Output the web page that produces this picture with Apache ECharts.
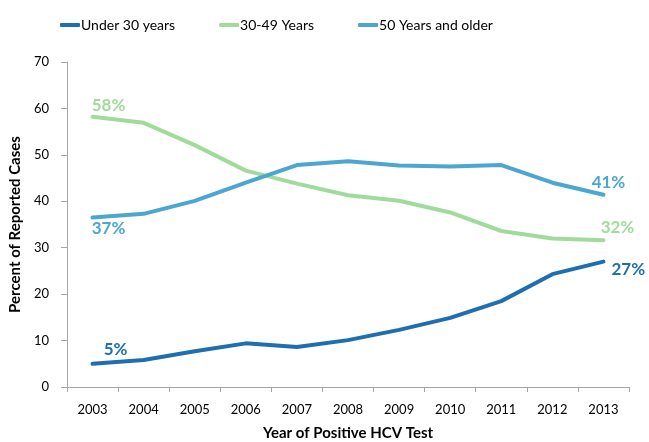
<!DOCTYPE html>
<html>
<head>
<meta charset="utf-8">
<script src="https://cdn.jsdelivr.net/npm/echarts@6/dist/echarts.min.js"></script>
<style>
  html, body { margin: 0; padding: 0; background: #fff; }
  #main { width: 649px; height: 442px; }
</style>
</head>
<body>
<div id="main"></div>
<script>
// data
const years = ["2003", "2004", "2005", "2006", "2007", "2008", "2009", "2010", "2011", "2012", "2013"];
const under30 = [5.0, 5.8, 7.7, 9.4, 8.6, 10.1, 12.3, 14.9, 18.5, 24.3, 27.0];
const age30to49 = [58.2, 56.9, 52.1, 46.6, 43.8, 41.3, 40.1, 37.6, 33.6, 32.0, 31.6];
const age50plus = [36.5, 37.3, 40.1, 44.0, 47.8, 48.6, 47.7, 47.5, 47.8, 44.0, 41.4];
const seriesNames = ["Under 30 years", "30-49 Years", "50 Years and older"];
const colors = ["#1F6EB0", "#A1DB9C", "#4BA7D0"];

const font = "Lato, 'Open Sans', sans-serif";

// label only first and last point of each line
function withLabels(values, color, first, last) {
  return values.map((v, i) => {
    let pos = null;
    if (i === 0) pos = first;
    if (i === values.length - 1) pos = last;
    if (!pos) return v;
    return {
      value: v,
      label: {
        show: true,
        position: pos.position,
        distance: pos.distance != null ? pos.distance : 3,
        offset: pos.offset || [0, 0],
        formatter: Math.round(v) + "%",
        color: color,
        fontSize: 17,
        fontWeight: "bold",
        fontFamily: font
      }
    };
  });
}

function lineSeries(k, values, first, last) {
  return {
    name: seriesNames[k],
    type: "line",
    symbol: "circle",
    symbolSize: 0.1,
    showSymbol: true,
    lineStyle: { width: 4, color: colors[k], cap: "round" },
    itemStyle: { color: colors[k] },
    data: withLabels(values, colors[k], first, last)
  };
}

const chart = echarts.init(document.getElementById("main"));
chart.setOption({
  animation: false,
  textStyle: { fontFamily: font },
  legend: {
    top: 13,
    left: 55,
    itemGap: 44,
    itemWidth: 20,
    itemHeight: 4,
    icon: "roundRect",
    textStyle: { fontSize: 14, color: "#000", fontFamily: font, padding: [0, 0, 0, -4] },
    data: seriesNames
  },
  grid: { left: 67, right: 20, top: 62, bottom: 55, containLabel: false, outerBoundsMode: "none" },
  xAxis: {
    type: "category",
    data: years,
    boundaryGap: true,
    axisLine: { lineStyle: { color: "#A6A6A6" } },
    axisTick: { show: true, length: 5, lineStyle: { color: "#A6A6A6" } },
    axisLabel: { color: "#000", fontSize: 13, margin: 16, fontFamily: font },
    name: "Year of Positive HCV Test",
    nameLocation: "middle",
    nameGap: 39,
    nameTextStyle: { fontSize: 15, fontWeight: "bold", color: "#000", fontFamily: font }
  },
  yAxis: {
    type: "value",
    min: 0,
    max: 70,
    interval: 10,
    splitLine: { show: false },
    axisLine: { show: true, lineStyle: { color: "#A6A6A6" } },
    axisTick: { show: true, length: 6, lineStyle: { color: "#A6A6A6" } },
    axisLabel: { color: "#000", fontSize: 13, margin: 18, fontFamily: font },
    name: "Percent of Reported Cases",
    nameLocation: "middle",
    nameGap: 44,
    nameRotate: 90,
    nameTextStyle: { fontSize: 15, fontWeight: "bold", color: "#000", fontFamily: font }
  },
  series: [
    lineSeries(0, under30,
      { position: "top", offset: [23, -3] },
      { position: "right", distance: 8, offset: [0, 8] }),
    lineSeries(1, age30to49,
      { position: "top", distance: 0, offset: [16, -3] },
      { position: "top", distance: 1, offset: [14, -3] }),
    lineSeries(2, age50plus,
      { position: "bottom", distance: 2, offset: [16, 0] },
      { position: "top", distance: 2, offset: [5, -2] })
  ]
});
</script>
</body>
</html>
